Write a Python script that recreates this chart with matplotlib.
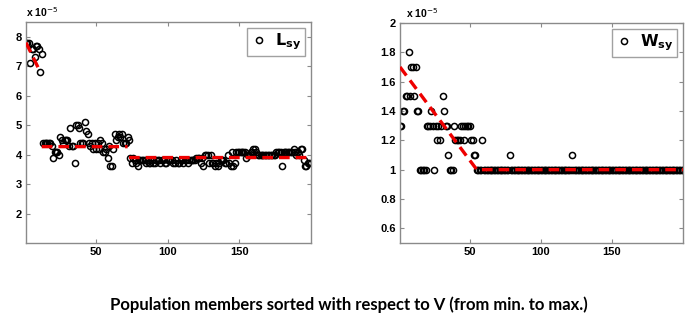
import numpy as np
import matplotlib
matplotlib.use("Agg")
import matplotlib.pyplot as plt
from matplotlib.ticker import FuncFormatter

# ---------------- data (values in units of 1e-5) ----------------
L_sy = [7.8, 7.8, 7.8, 7.1, 7.6, 7.6, 7.3, 7.7, 7.7, 7.6,
        6.8, 7.4, 4.4, 4.4, 4.4, 4.4, 4.4, 4.4, 4.3, 3.9,
        4.1, 4.1, 4.1, 4.0, 4.6, 4.5, 4.4, 4.5, 4.5, 4.5,
        4.3, 4.9, 4.3, 4.3, 3.7, 5.0, 5.0, 4.9, 4.4, 4.4,
        4.4, 5.1, 4.8, 4.7, 4.4, 4.3, 4.4, 4.2, 4.4, 4.2,
        4.4, 4.2, 4.5, 4.4, 4.1, 4.1, 4.2, 3.9, 4.3, 3.6,
        3.6, 4.2, 4.7, 4.5, 4.6, 4.7, 4.6, 4.7, 4.4, 4.4,
        4.4, 4.6, 4.5, 3.9, 3.7, 3.9, 3.8, 3.7, 3.6, 3.8,
        3.8, 3.8, 3.8, 3.8, 3.7, 3.8, 3.7, 3.7, 3.8, 3.7,
        3.7, 3.8, 3.8, 3.8, 3.7, 3.8, 3.8, 3.7, 3.7, 3.8,
        3.8, 3.8, 3.8, 3.7, 3.7, 3.8, 3.7, 3.7, 3.8, 3.8,
        3.7, 3.8, 3.8, 3.7, 3.8, 3.8, 3.8, 3.8, 3.8, 3.9,
        3.9, 3.9, 3.7, 3.9, 3.6, 4.0, 4.0, 4.0, 3.7, 4.0,
        3.7, 3.7, 3.6, 3.7, 3.6, 3.7, 3.8, 3.8, 3.8, 3.7,
        3.7, 4.0, 3.7, 3.6, 4.1, 3.6, 3.7, 4.1, 4.1, 4.1,
        4.1, 4.1, 4.1, 4.1, 3.9, 4.0, 4.0, 4.1, 4.1, 4.2,
        4.2, 4.1, 4.0, 4.0, 4.0, 4.0, 4.0, 4.0, 4.0, 4.0,
        4.0, 4.0, 4.0, 4.0, 4.0, 4.1, 4.1, 4.1, 4.1, 3.6,
        4.1, 4.1, 4.1, 4.1, 4.1, 4.1, 4.1, 4.2, 4.1, 4.0,
        4.1, 4.0, 4.2, 4.2, 3.8, 3.6, 3.6, 3.7, 3.7, 3.7]

W_sy = [1.3, 1.3, 1.4, 1.4, 1.5, 1.5, 1.8, 1.5, 1.7, 1.7,
        1.5, 1.7, 1.4, 1.4, 1.0, 1.0, 1.0, 1.0, 1.0, 1.3,
        1.3, 1.3, 1.4, 1.3, 1.0, 1.3, 1.2, 1.3, 1.2, 1.3,
        1.5, 1.4, 1.3, 1.3, 1.1, 1.0, 1.0, 1.0, 1.3, 1.2,
        1.2, 1.2, 1.2, 1.3, 1.3, 1.2, 1.3, 1.3, 1.3, 1.3,
        1.2, 1.2, 1.1, 1.1, 1.0, 1.0, 1.0, 1.0, 1.2, 1.0] + \
       [1.0] * 17 + [1.1] + [1.0] * 43 + [1.1] + [1.0] * 78

L_fit_x = [1, 11, np.nan, 12, 72, np.nan, 73, 200]
L_fit_y = [7.8, 6.8, np.nan, 4.27, 4.27, np.nan, 3.9, 3.9]
W_fit_x = [1, 55, 200]
W_fit_y = [1.70, 1.0, 1.0]

L_yticks = [2, 3, 4, 5, 6, 7, 8]
W_yticks = [0.6, 0.8, 1.0, 1.2, 1.4, 1.6, 1.8, 2.0]
x_ticks = [50, 100, 150]
xlabel = "Population members sorted with respect to V (from min. to max.)"

# ---------------- figure ----------------
plt.rcParams['font.family'] = ['Liberation Sans', 'DejaVu Sans']
fig = plt.figure(figsize=(6.9, 3.25), dpi=100)
ax1 = fig.add_axes([26/690, 1-243/325, (310.7-26)/690, (243-22)/325])
ax2 = fig.add_axes([400/690, 1-243/325, (683-400)/690, (243-23)/325])

spine_col = '#8a8a8a'
idx = np.arange(1, 201)

def style(ax):
    for s in ax.spines.values():
        s.set_color(spine_col)
        s.set_linewidth(1.0)
    ax.tick_params(direction='in', top=True, right=True, length=3,
                   color=spine_col, labelsize=8, pad=3)
    for lab in ax.get_xticklabels() + ax.get_yticklabels():
        lab.set_fontweight('bold')
    ax.set_xticks(x_ticks)
    ax.set_xlim(1, 200)

dash = (0, (3.2, 1.8))

ax1.plot(idx, L_sy, 'o', mfc='none', mec='black', ms=4.4, mew=1.1,
         label=r'$\mathbf{L_{sy}}$', zorder=2)
ax1.plot(L_fit_x, L_fit_y, color='#ee0000', lw=2.4, linestyle=dash, zorder=3)
ax1.set_ylim(1, 8.5)
ax1.set_yticks(L_yticks)
ax1.yaxis.set_major_formatter(FuncFormatter(lambda v, p: '%g' % v))
style(ax1)

ax2.plot(idx, W_sy, 'o', mfc='none', mec='black', ms=4.4, mew=1.1,
         label=r'$\mathbf{W_{sy}}$', zorder=2)
ax2.plot(W_fit_x, W_fit_y, color='#ee0000', lw=2.4, linestyle=dash, zorder=3)
ax2.set_ylim(0.5, 2.0)
ax2.set_yticks(W_yticks)
ax2.yaxis.set_major_formatter(FuncFormatter(lambda v, p: '%g' % v))
style(ax2)

for ax in (ax1, ax2):
    leg = ax.legend(loc='upper right', fontsize=11.5, frameon=True, fancybox=False,
                    handlelength=1.0, handletextpad=0.5, borderpad=0.25,
                    borderaxespad=0.35, markerscale=1.0)
    leg.get_frame().set_edgecolor(spine_col)
    leg.get_frame().set_linewidth(1.0)

for ax in (ax1, ax2):
    ax.text(0.0, 1.012, r'x 10$^{-5}$', transform=ax.transAxes, fontsize=7.5,
            ha='left', va='bottom', fontweight='bold')
ax2.texts[0].set_position((0.02, 1.012))

fig.text(0.505, 1-305/325, xlabel, ha='center', va='center', fontsize=12,
         fontweight='bold', family=['Lato', 'DejaVu Sans'])

fig.savefig('out.png', dpi=100)
